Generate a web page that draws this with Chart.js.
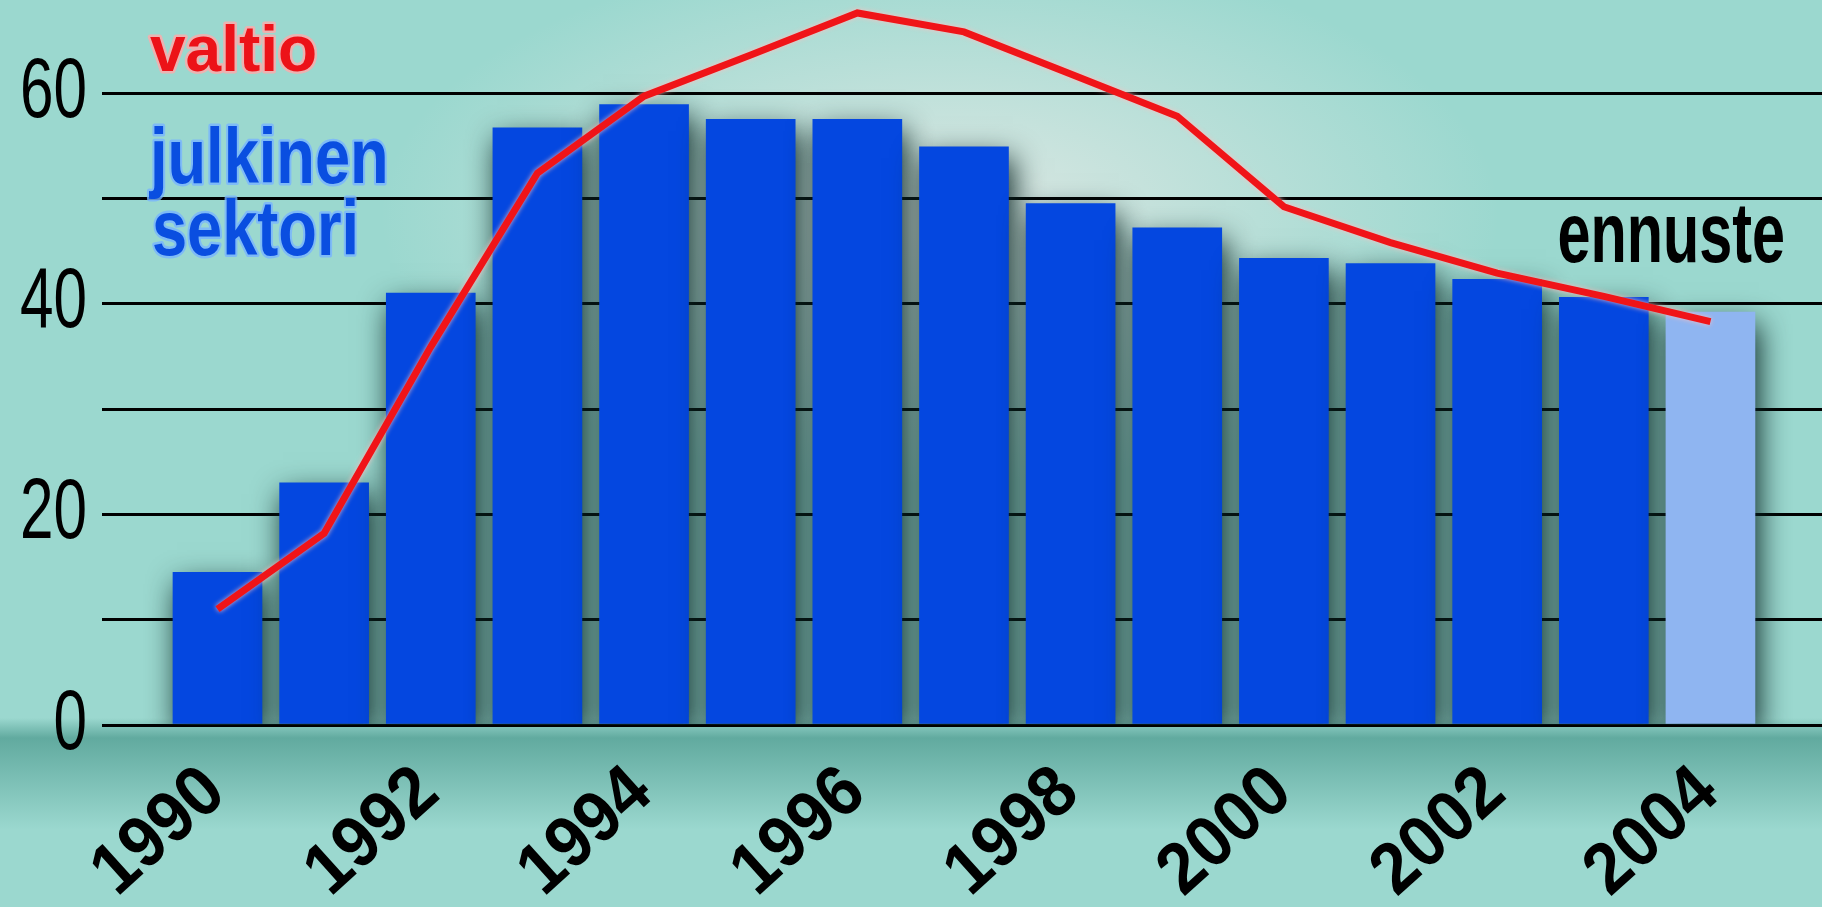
<!DOCTYPE html>
<html>
<head>
<meta charset="utf-8">
<script src="https://cdn.jsdelivr.net/npm/chart.js@4.4.1/dist/chart.umd.min.js"></script>
<style>
html, body { margin: 0; padding: 0; }
body {
    width: 1822px; height: 907px; overflow: hidden;
    background:
        radial-gradient(ellipse 560px 270px at 940px 215px, rgba(226,233,229,0.95), rgba(226,233,229,0) 100%),
        linear-gradient(to bottom, rgba(0,0,0,0) 718px, rgba(40,125,112,0.5) 738px, rgba(0,0,0,0) 830px),
        #9bd8cf;
}
#wrap { position: relative; width: 1822px; height: 907px; }
</style>
</head>
<body>
<div id="wrap"><canvas id="debt-chart"></canvas></div>
<script>
var years = [1990, 1991, 1992, 1993, 1994, 1995, 1996, 1997, 1998, 1999, 2000, 2001, 2002, 2003, 2004];
var sectorValues = [14.5, 23.0, 41.0, 56.7, 58.9, 57.5, 57.5, 54.9, 49.5, 47.2, 44.3, 43.8, 42.3, 40.6, 39.2];
var stateValues = [11.0, 18.2, 35.9, 52.4, 59.7, 63.6, 67.6, 65.8, 61.8, 57.8, 49.2, 45.8, 42.9, 40.7, 38.3];
var forecastYear = 2004;
var yGridTicks = [0, 10, 20, 30, 40, 50, 60];
var yLabelTicks = [0, 20, 40, 60];
var xLabelTicks = [1990, 1992, 1994, 1996, 1998, 2000, 2002, 2004];

var ctx = document.getElementById('debt-chart').getContext('2d');

var barShadow = {
    id: 'barShadow',
    beforeDatasetDraw: function (chart, args) {
        var c = chart.ctx;
        c.save();
        if (args.meta.type === 'bar') {
            c.shadowColor = 'rgba(12,40,38,1)';
            c.shadowBlur = 28;
            c.shadowOffsetX = 4;
            c.shadowOffsetY = 12;
        } else {
            c.shadowColor = 'rgba(255,190,190,0.9)';
            c.shadowBlur = 5;
        }
    },
    afterDatasetDraw: function (chart) {
        chart.ctx.restore();
    }
};

// text drawn with a horizontal squeeze, to get the condensed newspaper look
function label(c, text, x, y, size, weight, sx, fill, halo, align, baseline, angle) {
    c.save();
    c.font = weight + ' ' + size + 'px "Liberation Sans", Arial, sans-serif';
    c.textBaseline = baseline || 'alphabetic';
    c.textAlign = align || 'left';
    c.translate(x, y);
    if (angle) c.rotate(angle);
    c.scale(sx, 1);
    if (halo) {
        c.lineJoin = 'round';
        c.lineWidth = 5;
        c.strokeStyle = halo;
        c.strokeText(text, 0, 0);
    }
    c.fillStyle = fill;
    c.fillText(text, 0, 0);
    c.restore();
}

var axisText = {
    id: 'axisText',
    afterDraw: function (chart) {
        var c = chart.ctx;
        var xs = chart.scales.x, ys = chart.scales.y;
        yLabelTicks.forEach(function (v) {
            label(c, String(v), xs.left - 15, ys.getPixelForValue(v), 86, 'normal', 0.7, '#000', null, 'right', 'middle');
        });
        xLabelTicks.forEach(function (v) {
            label(c, String(v), xs.getPixelForValue(v) - 2, ys.bottom + 57, 72, 'bold', 0.94, '#000', null, 'right', 'middle', -42 * Math.PI / 180);
        });
        label(c, 'valtio', 150, 71, 64, 'bold', 1.0, '#ec1218', 'rgba(255,170,170,0.8)');
        label(c, 'julkinen', 150, 183, 77, 'bold', 0.82, '#0a4ee0', 'rgba(120,180,255,0.8)');
        label(c, 'sektori', 152, 255, 77, 'bold', 0.82, '#0a4ee0', 'rgba(120,180,255,0.8)');
        label(c, 'ennuste', 1785, 262, 86, 'bold', 0.69, '#000', null, 'right');
    }
};

var debtChart = new Chart(ctx, {
    data: {
        datasets: [{
            type: 'line',
            label: 'valtio',
            data: years.map((y, i) => ({ x: y, y: stateValues[i] })),
            borderColor: '#f01418',
            borderWidth: 7,
            pointRadius: 0,
            tension: 0,
            order: 0
        }, {
            type: 'bar',
            label: 'julkinen sektori',
            data: years.map((y, i) => ({ x: y, y: sectorValues[i] })),
            backgroundColor: years.map(y => y === forecastYear ? '#8fb5f1' : '#0447e0'),
            borderWidth: 0,
            barThickness: 89,
            order: 1
        }]
    },
    options: {
        responsive: true,
        maintainAspectRatio: false,
        devicePixelRatio: 1,
        animation: false,
        layout: { padding: 0 },
        plugins: {
            legend: { display: false },
            tooltip: { enabled: false }
        },
        scales: {
            x: {
                type: 'linear',
                offset: false,
                min: 1988.917,
                max: 2005.046,
                grid: { display: false, offset: false },
                border: { display: false },
                afterBuildTicks: s => { s.ticks = xLabelTicks.map(v => ({ value: v })); },
                afterFit: s => { s.height = 182; s.paddingLeft = 0; s.paddingRight = 0; },
                ticks: { display: false }
            },
            y: {
                min: 0,
                max: 68.83,
                border: { display: false },
                grid: {
                    color: '#000',
                    lineWidth: 3,
                    drawTicks: false
                },
                afterBuildTicks: s => { s.ticks = yGridTicks.map(v => ({ value: v })); },
                afterFit: s => { s.width = 102; s.paddingTop = 0; s.paddingBottom = 0; },
                ticks: { display: false }
            }
        }
    },
    plugins: [barShadow, axisText]
});
</script>
</body>
</html>
